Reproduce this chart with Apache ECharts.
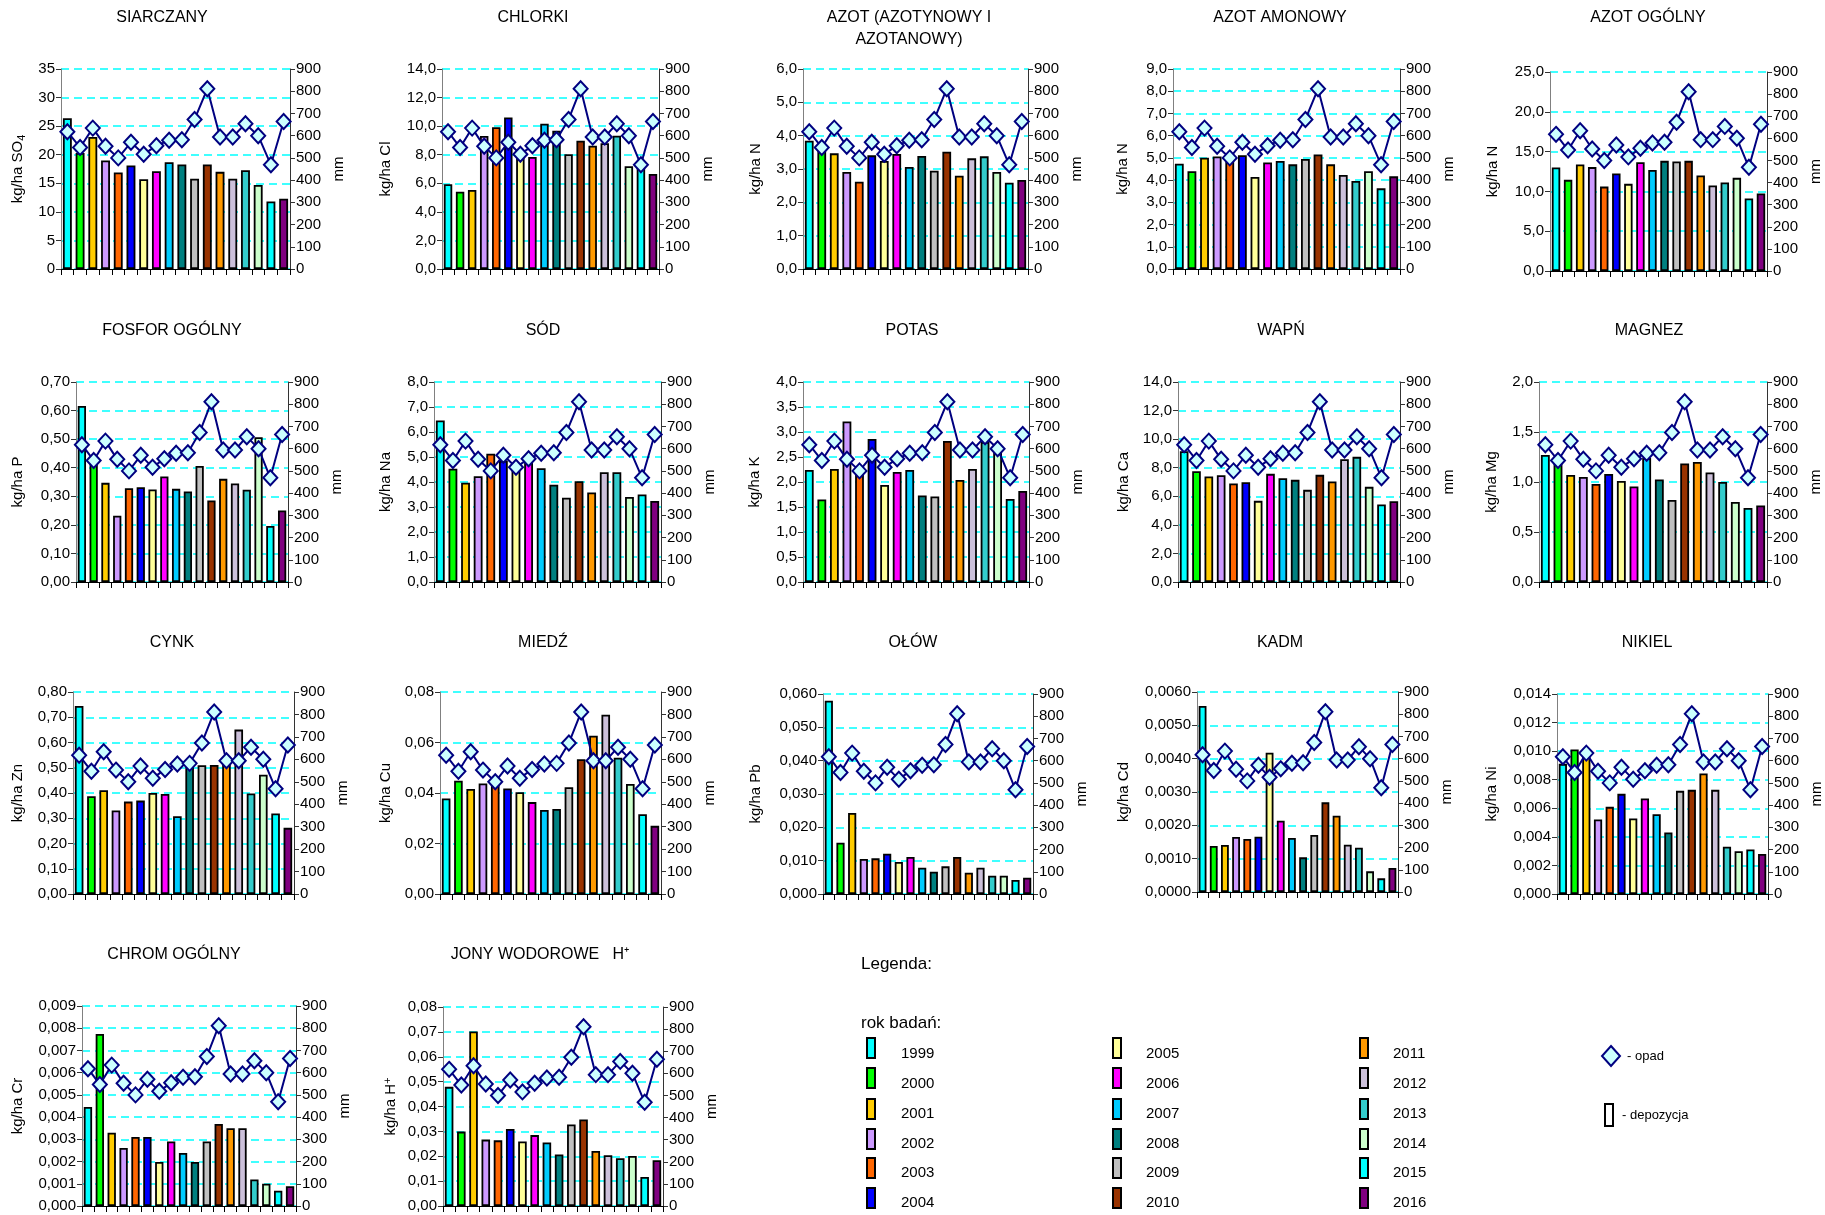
<!DOCTYPE html>
<html>
<head>
<meta charset="utf-8">
<script src="https://cdn.jsdelivr.net/npm/echarts@6/dist/echarts.min.js"></script>
<style>
html, body { margin: 0; padding: 0; background: #fff; }
#chart { width: 1825px; height: 1215px; }
</style>
</head>
<body>
<div id="chart"></div>
<script>
// lata badań i kolory słupków
var years = ['1999', '2000', '2001', '2002', '2003', '2004', '2005', '2006', '2007',
  '2008', '2009', '2010', '2011', '2012', '2013', '2014', '2015', '2016'];
var yearColors = ['#00FFFF', '#00FF00', '#FFCC00', '#CC99FF', '#FF6600', '#0000FF', '#FFFF99', '#FF00FF', '#00CCFF',
  '#008080', '#C0C0C0', '#993300', '#FF9900', '#CCC0DA', '#33CCCC', '#CCFFCC', '#00FFFF', '#800080'];

// opad [mm] - ten sam na wszystkich wykresach
var opad = [618, 547, 634, 552, 500, 570, 516, 555, 579, 582, 673, 811, 594, 594, 654, 600, 469, 664];

// depozycja [kg/ha]
var siarczany = [26.4, 20.3, 23.1, 19.0, 16.9, 18.1, 15.7, 17.1, 18.7, 18.3, 15.8, 18.3, 17.0, 15.8, 17.3, 14.7, 11.8, 12.3];
var chlorki = [5.93, 5.41, 5.53, 9.31, 9.92, 10.6, 7.9, 7.84, 10.17, 9.68, 8.03, 8.98, 8.63, 8.8, 9.33, 7.19, 7.07, 6.65];
var azotNO = [3.85, 3.6, 3.47, 2.91, 2.62, 3.41, 3.24, 3.45, 3.06, 3.39, 2.95, 3.52, 2.80, 3.32, 3.38, 2.91, 2.59, 2.67];
var azotAmonowy = [4.74, 4.40, 5.01, 5.06, 4.92, 5.12, 4.14, 4.79, 4.86, 4.71, 4.95, 5.15, 4.71, 4.23, 3.96, 4.40, 3.63, 4.17];
var azotOgolny = [13.0, 11.45, 13.38, 13.05, 10.6, 12.25, 10.95, 13.67, 12.7, 13.84, 13.76, 13.84, 12.0, 10.74, 11.12, 11.7, 9.1, 9.73];
var fosfor = [0.616, 0.42, 0.347, 0.232, 0.328, 0.332, 0.324, 0.369, 0.326, 0.317, 0.406, 0.285, 0.361, 0.345, 0.323, 0.507, 0.196, 0.250];
var sod = [6.46, 4.53, 3.97, 4.23, 5.13, 4.85, 4.6, 4.77, 4.55, 3.89, 3.37, 4.03, 3.58, 4.39, 4.39, 3.40, 3.50, 3.24];
var potas = [2.24, 1.65, 2.26, 3.21, 2.15, 2.86, 1.94, 2.20, 2.24, 1.73, 1.71, 2.82, 2.04, 2.26, 2.8, 2.62, 1.66, 1.82];
var wapn = [9.15, 7.76, 7.38, 7.48, 6.89, 6.99, 5.68, 7.57, 7.27, 7.15, 6.45, 7.50, 7.03, 8.60, 8.76, 6.66, 5.43, 5.66];
var magnez = [1.27, 1.19, 1.07, 1.05, 0.98, 1.08, 1.01, 0.955, 1.24, 1.025, 0.82, 1.185, 1.20, 1.095, 1.0, 0.80, 0.74, 0.765];
var cynk = [0.745, 0.387, 0.411, 0.331, 0.366, 0.370, 0.400, 0.396, 0.308, 0.51, 0.51, 0.511, 0.515, 0.651, 0.398, 0.472, 0.319, 0.262];
var miedz = [0.0378, 0.0449, 0.0416, 0.0438, 0.0434, 0.0418, 0.0403, 0.0364, 0.0333, 0.0337, 0.0423, 0.0534, 0.0627, 0.0710, 0.054, 0.0436, 0.0316, 0.027];
var olow = [0.058, 0.0154, 0.0243, 0.0105, 0.0107, 0.0121, 0.0096, 0.0111, 0.0079, 0.0067, 0.0083, 0.0111, 0.0064, 0.0079, 0.0055, 0.0055, 0.0042, 0.0049];
var kadm = [0.00558, 0.00138, 0.00141, 0.00165, 0.00159, 0.00166, 0.00418, 0.00214, 0.00162, 0.00104, 0.00171, 0.00269, 0.00229, 0.00142, 0.00133, 0.00062, 0.00041, 0.00072];
var nikiel = [0.00911, 0.01011, 0.0096, 0.00522, 0.0061, 0.00701, 0.00529, 0.00668, 0.00559, 0.00431, 0.00722, 0.00729, 0.00843, 0.00729, 0.00331, 0.00300, 0.00312, 0.0028];
var chrom = [0.00446, 0.00774, 0.0033, 0.00261, 0.00311, 0.00311, 0.00198, 0.0029, 0.00239, 0.00198, 0.0029, 0.00369, 0.0035, 0.0035, 0.00119, 0.0010, 0.00069, 0.00089];
var jonyH = [0.0479, 0.0299, 0.0702, 0.0267, 0.0264, 0.031, 0.0259, 0.0285, 0.0255, 0.0207, 0.0328, 0.0348, 0.0221, 0.0204, 0.0192, 0.0201, 0.0117, 0.0184];

// wykresy: tytuł, jednostka, dane, skala osi, położenie
var panels = [
  { title: 'SIARCZANY', unit: 'kg/ha SO{sub|4}', data: siarczany, max: 35, step: 5, dec: 0, gap: 34, left: 61, top: 69, width: 229, height: 200, tx: 162, ty: 18 },
  { title: 'CHLORKI', unit: 'kg/ha Cl', data: chlorki, max: 14, step: 2, dec: 1, gap: 49, left: 442, top: 69, width: 217, height: 200, tx: 533, ty: 18 },
  { title: 'AZOT (AZOTYNOWY I\nAZOTANOWY)', unit: 'kg/ha N', data: azotNO, max: 6, step: 1, dec: 1, gap: 40, left: 803, top: 69, width: 225, height: 200, tx: 909, ty: 29 },
  { title: 'AZOT AMONOWY', unit: 'kg/ha N', data: azotAmonowy, max: 9, step: 1, dec: 1, gap: 43, left: 1173, top: 69, width: 227, height: 200, tx: 1280, ty: 18 },
  { title: 'AZOT OGÓLNY', unit: 'kg/ha N', data: azotOgolny, max: 25, step: 5, dec: 1, gap: 50, left: 1550, top: 72, width: 217, height: 199, tx: 1648, ty: 18 },
  { title: 'FOSFOR OGÓLNY', unit: 'kg/ha P', data: fosfor, max: 0.7, step: 0.1, dec: 2, gap: 51, left: 76, top: 382, width: 212, height: 200, tx: 172, ty: 331 },
  { title: 'SÓD', unit: 'kg/ha Na', data: sod, max: 8, step: 1, dec: 1, gap: 41, left: 434, top: 382, width: 227, height: 200, tx: 543, ty: 331 },
  { title: 'POTAS', unit: 'kg/ha K', data: potas, max: 4, step: 0.5, dec: 1, gap: 41, left: 803, top: 382, width: 226, height: 200, tx: 912, ty: 331 },
  { title: 'WAPŃ', unit: 'kg/ha Ca', data: wapn, max: 14, step: 2, dec: 1, gap: 47, left: 1178, top: 382, width: 222, height: 200, tx: 1281, ty: 331 },
  { title: 'MAGNEZ', unit: 'kg/ha Mg', data: magnez, max: 2, step: 0.5, dec: 1, gap: 40, left: 1539, top: 382, width: 228, height: 200, tx: 1649, ty: 331 },
  { title: 'CYNK', unit: 'kg/ha Zn', data: cynk, max: 0.8, step: 0.1, dec: 2, gap: 48, left: 73, top: 692, width: 221, height: 202, tx: 172, ty: 643 },
  { title: 'MIEDŹ', unit: 'kg/ha Cu', data: miedz, max: 0.08, step: 0.02, dec: 2, gap: 47, left: 440, top: 692, width: 221, height: 202, tx: 543, ty: 643 },
  { title: 'OŁÓW', unit: 'kg/ha Pb', data: olow, max: 0.06, step: 0.01, dec: 3, gap: 60, left: 823, top: 694, width: 210, height: 200, tx: 913, ty: 643 },
  { title: 'KADM', unit: 'kg/ha Cd', data: kadm, max: 0.006, step: 0.001, dec: 4, gap: 66, left: 1197, top: 692, width: 201, height: 200, tx: 1280, ty: 643 },
  { title: 'NIKIEL', unit: 'kg/ha Ni', data: nikiel, max: 0.014, step: 0.002, dec: 3, gap: 58, left: 1557, top: 694, width: 211, height: 200, tx: 1647, ty: 643 },
  { title: 'CHROM OGÓLNY', unit: 'kg/ha Cr', data: chrom, max: 0.009, step: 0.001, dec: 3, gap: 57, left: 82, top: 1006, width: 214, height: 200, tx: 174, ty: 955 },
  { title: 'JONY WODOROWE   H⁺', unit: 'kg/ha H{sup|+}', data: jonyH, max: 0.08, step: 0.01, dec: 2, gap: 43, left: 443, top: 1007, width: 220, height: 199, tx: 540, ty: 955 }
];

var FONT = '"Liberation Sans", Arial, sans-serif';

function fmt(dec) {
  return function (v) {
    return v.toFixed(dec).replace('.', ',');
  };
}

var option = {
  animation: false,
  backgroundColor: '#fff',
  grid: [],
  xAxis: [],
  yAxis: [],
  series: [],
  graphic: []
};

panels.forEach(function (p, i) {
  option.grid.push({
    left: p.left, top: p.top, width: p.width, height: p.height,
    containLabel: false, outerBoundsMode: 'none'
  });
  option.xAxis.push({
    type: 'category',
    gridIndex: i,
    data: years,
    axisLine: { show: true, lineStyle: { color: '#000', width: 1 } },
    axisTick: { show: true, interval: 0, length: 6, lineStyle: { color: '#000' } },
    axisLabel: { show: false },
    splitLine: { show: false }
  });
  option.yAxis.push({
    type: 'value',
    gridIndex: i,
    position: 'left',
    min: 0,
    max: p.max,
    interval: p.step,
    name: p.unit,
    nameLocation: 'middle',
    nameRotate: 90,
    nameGap: p.gap,
    nameTextStyle: {
      color: '#000', fontSize: 15, fontFamily: FONT,
      rich: {
        sub: { fontSize: 11, fontFamily: FONT, color: '#000', padding: [7, 0, 0, 0] },
        sup: { fontSize: 11, fontFamily: FONT, color: '#000', padding: [0, 0, 7, 0] }
      }
    },
    axisLine: { show: true, lineStyle: { color: '#808080', width: 1 } },
    axisTick: { show: true, length: 5, lineStyle: { color: '#333' } },
    axisLabel: { color: '#000', fontSize: 15, fontFamily: FONT, margin: 6, formatter: fmt(p.dec) },
    splitLine: { show: true, lineStyle: { color: '#00FFFF', type: [8, 5], width: 1.5 } }
  });
  option.yAxis.push({
    type: 'value',
    gridIndex: i,
    position: 'right',
    min: 0,
    max: 900,
    interval: 100,
    name: 'mm',
    nameLocation: 'middle',
    nameRotate: 90,
    nameGap: 41,
    nameTextStyle: { color: '#000', fontSize: 15, fontFamily: FONT },
    axisLine: { show: true, lineStyle: { color: '#333', width: 1 } },
    axisTick: { show: true, length: 5, lineStyle: { color: '#333' } },
    axisLabel: { color: '#000', fontSize: 15, fontFamily: FONT, margin: 6 },
    splitLine: { show: false }
  });
  option.series.push({
    name: 'depozycja',
    type: 'bar',
    xAxisIndex: i,
    yAxisIndex: 2 * i,
    data: p.data,
    barCategoryGap: '30%',
    itemStyle: {
      color: function (prm) { return yearColors[prm.dataIndex]; },
      borderColor: '#000',
      borderWidth: 1.8
    },
    z: 2
  });
  option.series.push({
    name: 'opad',
    type: 'line',
    xAxisIndex: i,
    yAxisIndex: 2 * i + 1,
    data: opad,
    symbol: 'diamond',
    symbolSize: [14, 15],
    showSymbol: true,
    showAllSymbol: true,
    lineStyle: { color: '#000080', width: 2 },
    itemStyle: { color: '#CCFFFF', borderColor: '#000080', borderWidth: 2 },
    z: 3
  });
  // tytuł wykresu
  option.graphic.push({
    type: 'text',
    x: p.tx,
    y: p.ty,
    style: {
      text: p.title,
      font: '16px ' + FONT,
      fill: '#000',
      align: 'center', textAlign: 'center',
      verticalAlign: 'middle', textVerticalAlign: 'middle',
      lineHeight: 22
    }
  });
});

// legenda
var legCols = [871, 1117, 1364];
var legTextCols = [901, 1146, 1393];
var legIconY = [1048, 1078, 1109, 1139, 1168, 1198];
var legTextY = [1054, 1084, 1114, 1144, 1173, 1203];

option.graphic.push({
  type: 'text', x: 861, y: 964,
  style: { text: 'Legenda:', font: '17px ' + FONT, fill: '#000', verticalAlign: 'middle', textVerticalAlign: 'middle' }
});
option.graphic.push({
  type: 'text', x: 861, y: 1023,
  style: { text: 'rok badań:', font: '17px ' + FONT, fill: '#000', verticalAlign: 'middle', textVerticalAlign: 'middle' }
});
years.forEach(function (y, i) {
  var col = Math.floor(i / 6), row = i % 6;
  option.graphic.push({
    type: 'rect',
    shape: { x: legCols[col] - 4, y: legIconY[row] - 10, width: 8, height: 20 },
    style: { fill: yearColors[i], stroke: '#000', lineWidth: 2 }
  });
  option.graphic.push({
    type: 'text', x: legTextCols[col], y: legTextY[row],
    style: { text: y, font: '15px ' + FONT, fill: '#000', verticalAlign: 'middle', textVerticalAlign: 'middle' }
  });
});
option.graphic.push({
  type: 'polygon',
  shape: { points: [[1611, 1046], [1620, 1056], [1611, 1066], [1602, 1056]] },
  style: { fill: '#CCFFFF', stroke: '#000080', lineWidth: 2 }
});
option.graphic.push({
  type: 'text', x: 1627, y: 1056,
  style: { text: '- opad', font: '13px ' + FONT, fill: '#000', verticalAlign: 'middle', textVerticalAlign: 'middle' }
});
option.graphic.push({
  type: 'rect',
  shape: { x: 1605, y: 1104, width: 8, height: 22 },
  style: { fill: '#fff', stroke: '#000', lineWidth: 2 }
});
option.graphic.push({
  type: 'text', x: 1622, y: 1115,
  style: { text: '- depozycja', font: '13px ' + FONT, fill: '#000', verticalAlign: 'middle', textVerticalAlign: 'middle' }
});

var myChart = echarts.init(document.getElementById('chart'));
myChart.setOption(option);
</script>
</body>
</html>
